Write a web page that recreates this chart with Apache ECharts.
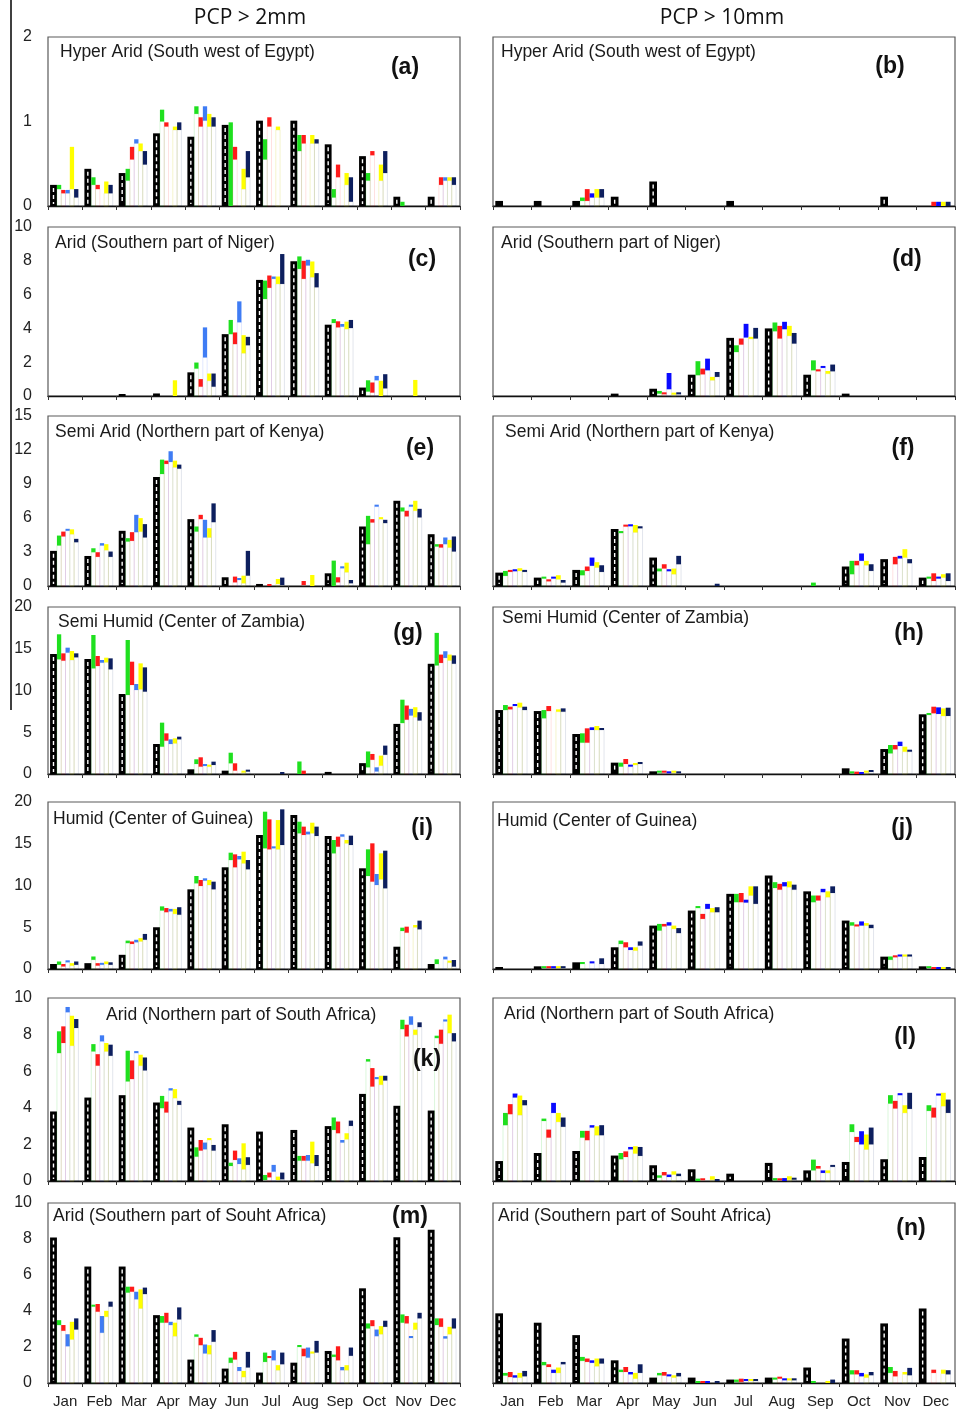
<!DOCTYPE html>
<html>
<head>
<meta charset="utf-8">
<script src="https://cdn.jsdelivr.net/npm/echarts@6/dist/echarts.min.js"></script>
<style>
  html, body { margin: 0; padding: 0; background: #fff; }
  #chart { width: 963px; height: 1412px; }
</style>
</head>
<body>
<div id="chart"></div>
<script>
(function (window, echarts) {
    'use strict';

    const months = ['Jan', 'Feb', 'Mar', 'Apr', 'May', 'Jun', 'Jul', 'Aug', 'Sep', 'Oct', 'Nov', 'Dec'];

    // hatched black bar per month
    // ranges per month: [greenLo, greenHi, redLo, redHi, blueLo, blueHi, yellowLo, yellowHi, navyLo, navyHi]

    // (a) Hyper Arid, PCP > 2mm
    const obs_a = [0.25, 0.44, 0.39, 0.86, 0.82, 0.96, 1.01, 1.01, 0.73, 0.59, 0.11, 0.11];
    const rng_a = [
        [0.20, 0.25, 0.15, 0.19, 0.15, 0.19, 0.20, 0.70, 0.10, 0.20],
        [0.25, 0.34, 0.20, 0.25, 0, 0, 0.15, 0.29, 0.15, 0.25],
        [0.30, 0.44, 0.55, 0.70, 0.74, 0.79, 0.65, 0.74, 0.49, 0.65],
        [1.00, 1.14, 0.94, 0.99, 0, 0, 0.90, 0.94, 0.90, 0.99],
        [1.09, 1.18, 0.94, 1.05, 1.01, 1.18, 0.94, 1.09, 0.94, 1.05],
        [0, 0.99, 0.55, 0.70, 0, 0, 0.20, 0.44, 0.34, 0.65],
        [0.55, 0.79, 0.94, 1.05, 0, 0, 0.90, 0.94, 0, 0],
        [0.65, 0.84, 0.74, 0.84, 0, 0, 0.74, 0.84, 0.74, 0.79],
        [0.10, 0.20, 0.34, 0.49, 0, 0, 0.25, 0.39, 0.05, 0.34],
        [0.30, 0.39, 0.60, 0.65, 0, 0, 0.30, 0.49, 0.39, 0.65],
        [0, 0.05, 0, 0, 0, 0, 0, 0, 0, 0],
        [0, 0, 0.25, 0.34, 0.30, 0.34, 0.30, 0.34, 0.25, 0.34]
    ];

    // (b) Hyper Arid, PCP > 10mm
    const obs_b = [0.06, 0.06, 0.06, 0.11, 0.29, 0, 0.06, 0, 0, 0, 0.11, 0];
    const rng_b = [
        [0, 0, 0, 0, 0, 0, 0, 0, 0, 0],
        [0, 0, 0, 0, 0, 0, 0, 0, 0, 0],
        [0.06, 0.10, 0.06, 0.20, 0.10, 0.15, 0.10, 0.20, 0.10, 0.20],
        [0, 0, 0, 0, 0, 0, 0, 0, 0, 0],
        [0, 0, 0, 0, 0, 0, 0, 0, 0, 0],
        [0, 0, 0, 0, 0, 0, 0, 0, 0, 0],
        [0, 0, 0, 0, 0, 0, 0, 0, 0, 0],
        [0, 0, 0, 0, 0, 0, 0, 0, 0, 0],
        [0, 0, 0, 0, 0, 0, 0, 0, 0, 0],
        [0, 0, 0, 0, 0, 0, 0, 0, 0, 0],
        [0, 0, 0, 0, 0, 0, 0, 0, 0, 0],
        [0, 0, 0, 0.05, 0, 0.05, 0, 0.05, 0, 0.05]
    ];

    // (c) Arid Niger, > 2mm
    const obs_c = [0, 0, 0.1, 0.15, 1.4, 3.66, 6.87, 7.98, 4.22, 0.5, 0, 0];
    const rng_c = [
        [0, 0, 0, 0, 0, 0, 0, 0, 0, 0],
        [0, 0, 0, 0, 0, 0, 0, 0, 0, 0],
        [0, 0, 0, 0, 0, 0, 0, 0, 0, 0],
        [0, 0, 0, 0, 0, 0, 0, 0.93, 0, 0],
        [1.62, 1.98, 0.55, 1.0, 2.28, 4.06, 0.9, 1.33, 0.55, 1.33],
        [3.66, 4.5, 3.07, 3.76, 4.36, 5.6, 2.53, 3.6, 3.0, 3.5],
        [5.74, 6.83, 6.4, 7.13, 6.93, 7.07, 6.63, 7.07, 6.63, 8.4],
        [7.52, 8.26, 6.93, 8.0, 7.72, 8.06, 7.03, 7.96, 6.43, 7.27],
        [4.32, 4.55, 4.06, 4.42, 4.1, 4.26, 3.96, 4.4, 4.02, 4.5],
        [0.26, 0.93, 0.2, 0.8, 0.93, 1.19, 0, 0.9, 0.45, 1.29],
        [0, 0, 0, 0, 0, 0, 0, 0.95, 0, 0],
        [0, 0, 0, 0, 0, 0, 0, 0, 0, 0]
    ];

    // (d) Arid Niger, > 10mm
    const obs_d = [0, 0, 0, 0.14, 0.43, 1.26, 3.44, 4.0, 1.26, 0.14, 0, 0];
    const rng_d = [
        [0, 0, 0, 0, 0, 0, 0, 0, 0, 0],
        [0, 0, 0, 0, 0, 0, 0, 0, 0, 0],
        [0, 0, 0, 0, 0, 0, 0, 0, 0, 0],
        [0, 0, 0, 0, 0, 0, 0, 0, 0, 0],
        [0.14, 0.3, 0.1, 0.2, 0.4, 1.36, 0.08, 0.18, 0.1, 0.2],
        [1.23, 2.06, 1.28, 1.62, 1.52, 2.21, 0.93, 1.13, 1.13, 1.42],
        [2.6, 3.0, 3.04, 3.4, 3.46, 4.27, 3.38, 3.5, 3.4, 4.03],
        [3.83, 4.35, 3.4, 4.15, 3.95, 4.39, 3.56, 4.15, 3.1, 3.73],
        [1.52, 2.11, 1.46, 1.56, 1.66, 1.72, 1.32, 1.48, 1.46, 1.86],
        [0, 0, 0, 0, 0, 0, 0, 0, 0, 0],
        [0, 0, 0, 0, 0, 0, 0, 0, 0, 0],
        [0, 0, 0, 0, 0, 0, 0, 0, 0, 0]
    ];

    // (e) Semi Arid Kenya, > 2mm
    const obs_e = [3.1, 2.65, 4.87, 9.62, 5.9, 0.77, 0.18, 0, 1.12, 5.25, 7.52, 4.57];
    const rng_e = [
        [3.57, 4.45, 4.37, 4.8, 4.87, 5.0, 4.57, 5.0, 3.86, 4.16],
        [2.98, 3.33, 2.57, 2.98, 3.57, 3.78, 3.16, 3.69, 2.57, 3.04],
        [3.92, 4.22, 3.98, 4.75, 4.75, 6.28, 4.8, 5.99, 4.28, 5.46],
        [9.88, 11.15, 10.77, 11.06, 10.94, 11.89, 10.47, 11.06, 10.35, 10.71],
        [4.8, 5.25, 5.9, 6.28, 4.28, 5.84, 4.28, 5.1, 5.63, 7.29],
        [0, 0, 0.32, 0.83, 0.53, 0.68, 0.24, 0.91, 0.91, 3.1],
        [0, 0, 0, 0.15, 0, 0, 0.18, 0.62, 0.09, 0.74],
        [0, 0, 0.09, 0.44, 0, 0, 0, 0.97, 0, 0],
        [0, 2.24, 0.32, 0.77, 1.56, 1.71, 1.21, 2.06, 0.24, 0.53],
        [3.69, 6.19, 5.6, 5.9, 7.0, 7.17, 5.9, 6.05, 5.55, 5.84],
        [6.58, 6.93, 6.14, 6.64, 7.0, 7.17, 6.64, 7.52, 6.05, 6.81],
        [3.48, 3.69, 3.39, 3.69, 3.69, 4.28, 3.39, 4.07, 3.04, 4.37]
    ];

    // (f) Semi Arid Kenya, > 10mm
    const obs_f = [1.18, 0.74, 1.42, 5.03, 2.51, 0, 0, 0, 0, 1.72, 2.37, 0.74];
    const rng_f = [
        [0.89, 1.33, 1.24, 1.42, 1.3, 1.42, 1.33, 1.57, 1.24, 1.42],
        [0.65, 0.8, 0.41, 0.59, 0.65, 0.8, 0.59, 0.95, 0.3, 0.53],
        [0.95, 1.39, 1.33, 1.72, 1.78, 2.51, 1.63, 2.1, 1.24, 1.83],
        [4.67, 4.79, 5.24, 5.41, 5.27, 5.38, 4.73, 5.38, 5.09, 5.27],
        [1.3, 1.54, 1.54, 1.92, 1.3, 1.48, 1.04, 1.54, 1.92, 2.66],
        [0, 0, 0, 0, 0, 0, 0, 0, 0, 0.2],
        [0, 0, 0, 0, 0, 0, 0, 0, 0, 0],
        [0, 0, 0, 0, 0, 0, 0, 0, 0, 0],
        [0, 0.3, 0, 0, 0, 0, 0, 0, 0, 0],
        [1.04, 2.22, 1.83, 2.22, 2.22, 2.87, 1.83, 2.22, 1.33, 1.92],
        [0, 0, 1.92, 2.57, 2.43, 2.66, 2.51, 3.25, 2.01, 2.37],
        [0.65, 0.74, 0.44, 1.12, 0.65, 0.83, 0.74, 1.04, 0.44, 1.12]
    ];

    // (g) Semi Humid Zambia, > 2mm
    const obs_g = [14.37, 13.77, 9.58, 3.59, 0.56, 0.4, 0, 0, 0.25, 1.3, 6.0, 13.2];
    const rng_g = [
        [13.73, 16.73, 13.57, 14.45, 14.53, 15.13, 13.65, 14.73, 13.97, 14.45],
        [12.65, 16.65, 12.93, 14.13, 13.33, 13.65, 13.37, 13.93, 12.53, 13.85],
        [9.46, 16.05, 10.66, 13.45, 10.06, 10.78, 10.14, 13.25, 9.86, 12.77],
        [3.27, 6.15, 3.99, 4.87, 3.59, 4.15, 3.67, 4.27, 4.15, 4.47],
        [1.2, 1.76, 0.88, 2.0, 0.96, 1.2, 0.88, 1.08, 1.08, 1.48],
        [1.28, 2.55, 0.4, 1.28, 0, 0, 0.16, 0.4, 0.28, 0.48],
        [0, 0, 0, 0, 0, 0, 0, 0, 0, 0.2],
        [0, 1.5, 0, 0.4, 0, 0, 0, 0, 0, 0],
        [0, 0, 0, 0, 0, 0, 0, 0, 0, 0],
        [0.8, 2.7, 1.7, 2.4, 0.3, 0.8, 1.0, 2.2, 2.3, 3.4],
        [6.1, 8.9, 6.5, 8.2, 7.0, 7.8, 6.8, 8.0, 6.4, 7.4],
        [13.0, 16.9, 13.3, 14.3, 13.9, 14.7, 13.6, 14.3, 13.2, 14.2]
    ];

    // (h) Semi Humid Zambia, > 10mm
    const obs_h = [7.66, 7.54, 4.79, 1.36, 0.32, 0, 0, 0, 0, 0.68, 2.99, 7.15];
    const rng_h = [
        [7.66, 8.26, 7.74, 8.06, 8.14, 8.38, 7.98, 8.54, 7.66, 8.06],
        [6.67, 7.66, 7.54, 8.14, 0, 0, 7.46, 7.74, 7.46, 7.86],
        [3.75, 4.87, 3.75, 5.47, 5.27, 5.59, 5.27, 5.75, 5.27, 5.47],
        [0.88, 1.36, 1.2, 1.8, 0.88, 1.08, 1.08, 1.28, 1.2, 1.4],
        [0.16, 0.28, 0.16, 0.28, 0.08, 0.28, 0.16, 0.28, 0.08, 0.28],
        [0, 0, 0, 0, 0, 0, 0, 0, 0, 0],
        [0, 0, 0, 0, 0, 0, 0, 0, 0, 0],
        [0, 0, 0, 0, 0, 0, 0, 0, 0, 0],
        [0, 0, 0, 0, 0, 0, 0, 0, 0, 0],
        [0.08, 0.28, 0, 0.28, 0, 0.16, 0.16, 0.4, 0.24, 0.48],
        [2.47, 3.47, 2.95, 3.47, 3.35, 3.87, 2.67, 3.27, 2.67, 2.87],
        [7.07, 7.27, 7.27, 8.06, 7.19, 7.98, 6.95, 7.86, 6.95, 7.94]
    ];

    // (i) Humid Guinea, > 2mm
    const obs_i = [0.6, 0.7, 1.7, 5.0, 9.54, 12.18, 16.05, 18.44, 15.93, 12.06, 2.67, 0.6];
    const rng_i = [
        [0.5, 0.9, 0.3, 0.6, 0.8, 1.0, 0.4, 0.7, 0.5, 0.9],
        [1.1, 1.5, 0.4, 0.7, 0.5, 0.7, 0.6, 0.9, 0.5, 0.8],
        [3.1, 3.4, 3.0, 3.3, 3.2, 3.5, 3.3, 3.7, 3.5, 4.2],
        [7.0, 7.5, 6.8, 7.3, 6.9, 7.2, 6.6, 7.2, 6.5, 7.4],
        [10.26, 11.14, 9.94, 10.66, 10.58, 10.86, 10.06, 10.66, 9.54, 10.46],
        [13.05, 13.93, 12.18, 13.73, 13.13, 13.53, 12.65, 14.05, 11.94, 13.05],
        [14.45, 18.84, 14.33, 17.92, 14.45, 14.65, 14.33, 17.84, 14.85, 19.12],
        [16.25, 17.64, 16.05, 17.05, 16.13, 16.45, 16.25, 17.52, 15.93, 17.05],
        [13.85, 15.45, 14.65, 15.85, 15.85, 16.13, 15.05, 15.45, 14.85, 15.97],
        [11.14, 14.33, 10.46, 15.05, 10.06, 11.38, 10.74, 13.85, 9.66, 14.17],
        [4.55, 4.95, 4.35, 5.07, 0, 0, 4.99, 5.27, 4.75, 5.79],
        [0.6, 1.16, 0, 0, 1.16, 1.48, 0.76, 0.96, 0.28, 1.08]
    ];

    // (j) Humid Guinea, > 10mm
    const obs_j = [0.2, 0.32, 0.8, 2.6, 5.2, 7.0, 9.0, 11.2, 9.3, 5.8, 1.48, 0.32];
    const rng_j = [
        [0, 0, 0, 0, 0, 0, 0, 0, 0, 0],
        [0.1, 0.2, 0.1, 0.2, 0.1, 0.2, 0.1, 0.2, 0.1, 0.2],
        [0.6, 0.7, 0, 0, 0.68, 0.88, 0, 0, 0.6, 1.28],
        [3.0, 3.4, 2.6, 3.2, 2.28, 2.6, 2.2, 2.6, 2.8, 3.3],
        [4.6, 5.4, 5.1, 5.4, 5.2, 5.6, 4.8, 5.2, 4.3, 4.9],
        [7.3, 7.5, 6.0, 6.6, 7.2, 7.8, 6.8, 7.3, 6.8, 7.4],
        [8.0, 9.0, 8.0, 9.1, 7.95, 8.3, 8.8, 9.9, 7.8, 9.9],
        [9.7, 10.4, 9.5, 10.2, 9.9, 10.4, 9.8, 10.5, 9.5, 10.1],
        [8.0, 8.8, 8.2, 8.8, 9.2, 9.6, 8.6, 9.3, 9.1, 9.9],
        [5.2, 5.6, 5.1, 5.3, 5.2, 5.7, 5.2, 5.5, 4.9, 5.3],
        [1.1, 1.5, 1.4, 1.6, 1.5, 1.7, 1.5, 1.7, 1.5, 1.7],
        [0.1, 0.3, 0, 0.1, 0, 0.05, 0, 0.05, 0, 0.05]
    ];

    // (k) Arid northern South Africa, > 2mm
    const obs_k = [3.8, 4.56, 4.69, 4.29, 2.92, 3.1, 2.7, 2.79, 3.0, 4.76, 4.11, 3.85];
    const rng_k = [
        [6.99, 8.18, 7.54, 8.45, 9.22, 9.51, 7.39, 9.03, 8.36, 8.85],
        [7.08, 7.48, 6.3, 6.93, 7.63, 7.96, 7.08, 7.54, 6.84, 7.45],
        [5.44, 7.12, 5.57, 6.59, 6.99, 7.08, 6.3, 6.9, 6.04, 6.75],
        [3.98, 4.65, 3.74, 4.34, 4.95, 5.07, 4.53, 5.02, 4.16, 4.38],
        [1.33, 1.84, 1.66, 2.24, 1.73, 2.1, 2.24, 2.34, 1.66, 1.97],
        [0.82, 1.0, 1.15, 1.66, 0.93, 1.24, 0.64, 2.06, 0.88, 1.3],
        [0.05, 0.33, 0.2, 0.46, 0.51, 0.88, 0.05, 0.24, 0.09, 0.46],
        [1.11, 1.37, 1.11, 1.37, 1.11, 1.42, 0.97, 2.15, 0.82, 1.42],
        [2.79, 3.47, 2.61, 3.25, 2.1, 2.24, 2.28, 2.61, 3.01, 3.3],
        [6.53, 6.66, 5.16, 6.17, 5.57, 5.68, 5.26, 5.75, 5.49, 5.75],
        [8.3, 8.81, 7.9, 8.54, 8.54, 9.0, 7.99, 8.27, 8.41, 8.67],
        [7.81, 7.94, 7.5, 8.27, 8.72, 8.81, 8.08, 9.09, 7.63, 8.08]
    ];

    // (l) Arid northern South Africa, > 10mm
    const obs_l = [1.09, 1.53, 1.64, 1.39, 0.86, 0.64, 0.4, 0.99, 0.58, 1.04, 1.19, 1.31];
    const rng_l = [
        [3.05, 3.72, 3.65, 4.2, 4.56, 4.78, 3.6, 4.67, 4.14, 4.42],
        [3.28, 3.41, 2.37, 2.81, 3.72, 4.27, 3.23, 3.72, 2.96, 3.47],
        [2.37, 2.74, 2.23, 2.74, 2.92, 3.05, 2.5, 2.99, 2.5, 3.05],
        [1.19, 1.53, 1.31, 1.62, 1.73, 1.86, 1.5, 1.9, 1.37, 1.86],
        [0.18, 0.31, 0.31, 0.49, 0.22, 0.35, 0.35, 0.53, 0.27, 0.4],
        [0, 0.13, 0.04, 0.13, 0, 0, 0.07, 0.26, 0, 0.07],
        [0, 0, 0, 0, 0, 0, 0, 0, 0, 0],
        [0.04, 0.16, 0.04, 0.13, 0, 0.16, 0.07, 0.26, 0.07, 0.18],
        [0.58, 1.17, 0.68, 0.82, 0.44, 0.58, 0.44, 0.58, 0.77, 0.86],
        [2.68, 3.1, 2.13, 2.41, 2.0, 2.72, 1.72, 2.54, 2.0, 2.92],
        [4.23, 4.69, 3.96, 4.38, 4.69, 4.78, 3.72, 4.14, 3.94, 4.82],
        [3.83, 4.14, 3.47, 4.01, 4.67, 4.72, 4.09, 4.82, 3.72, 4.45]
    ];

    // (m) Arid southern South Africa, > 2mm
    const obs_m = [8.09, 6.47, 6.47, 3.77, 1.3, 0.8, 0.58, 1.13, 1.78, 5.26, 8.1, 8.51];
    const rng_m = [
        [3.22, 3.49, 2.9, 3.22, 2.04, 2.71, 2.42, 3.4, 2.97, 3.59],
        [4.24, 4.33, 3.96, 4.39, 2.79, 3.72, 3.68, 4.01, 4.24, 4.52],
        [5.02, 5.35, 5.07, 5.35, 4.65, 5.07, 4.14, 5.2, 4.94, 5.3],
        [3.35, 3.72, 3.35, 3.9, 3.22, 3.4, 2.6, 3.35, 3.53, 4.2],
        [2.57, 2.7, 2.1, 2.51, 1.64, 2.14, 1.6, 2.1, 2.29, 2.94],
        [1.12, 1.41, 1.3, 1.73, 0.67, 0.89, 0.33, 0.67, 0.86, 1.73],
        [1.17, 1.69, 1.39, 1.5, 1.26, 1.82, 0.71, 0.99, 1.04, 1.69],
        [2.0, 2.05, 1.49, 1.91, 1.41, 1.97, 1.64, 1.73, 1.69, 2.34],
        [1.45, 1.58, 1.26, 2.04, 0.71, 0.89, 0.71, 0.99, 1.51, 1.97],
        [3.03, 3.31, 3.16, 3.49, 2.6, 2.97, 2.71, 3.16, 3.12, 3.46],
        [3.35, 3.81, 3.31, 3.72, 2.5, 2.6, 2.97, 3.35, 3.59, 3.9],
        [3.22, 3.59, 3.12, 3.59, 2.47, 2.6, 2.71, 3.12, 3.03, 3.59]
    ];

    // (n) Arid southern South Africa, > 10mm
    const obs_n = [3.87, 3.35, 2.66, 1.26, 0.3, 0.3, 0.19, 0.3, 0.86, 2.47, 3.31, 4.14];
    const rng_n = [
        [0.41, 0.56, 0.33, 0.61, 0.3, 0.43, 0.3, 0.56, 0.37, 0.67],
        [0.99, 1.17, 0.89, 1.04, 0.56, 0.74, 0.56, 0.86, 1.04, 1.17],
        [1.23, 1.45, 1.17, 1.36, 1.12, 1.26, 0.93, 1.36, 1.08, 1.36],
        [0.61, 0.74, 0.61, 0.89, 0.48, 0.61, 0.24, 0.56, 0.56, 1.04],
        [0.43, 0.56, 0.41, 0.61, 0.37, 0.43, 0.3, 0.43, 0.37, 0.56],
        [0, 0.06, 0, 0.11, 0, 0.04, 0, 0, 0, 0.06],
        [0.06, 0.19, 0.06, 0.24, 0.11, 0.19, 0.11, 0.19, 0.11, 0.19],
        [0.19, 0.28, 0.24, 0.33, 0.15, 0.24, 0.15, 0.24, 0.15, 0.24],
        [0, 0.11, 0, 0, 0, 0, 0, 0.09, 0, 0.19],
        [0.48, 0.71, 0.48, 0.71, 0.37, 0.56, 0.3, 0.48, 0.43, 0.61],
        [0.56, 0.89, 0.37, 0.67, 0, 0, 0.48, 0.61, 0.43, 0.84],
        [0, 0, 0.56, 0.74, 0, 0, 0.52, 0.74, 0.48, 0.71]
    ];

    const colTitles = ['PCP > 2mm', 'PCP > 10mm'];

    // layout of the 7 x 2 panels
    const rowTop = [37, 227, 416, 607, 802, 998, 1203];
    const rowBottom = [206, 396, 586, 774, 969, 1181, 1383];
    const colLeft = [48, 493];
    const colRight = [460, 955];

    const panels = [
        {tag: '(a)', title: 'Hyper Arid (South west of Egypt)', obs: obs_a, rng: rng_a, row: 0, col: 0, max: 2, step: 1, tx: 60, ty: 52, lx: 405, ly: 68},
        {tag: '(b)', title: 'Hyper Arid (South west of Egypt)', obs: obs_b, rng: rng_b, row: 0, col: 1, max: 2, step: 1, tx: 501, ty: 52, lx: 890, ly: 67},
        {tag: '(c)', title: 'Arid (Southern part of Niger)', obs: obs_c, rng: rng_c, row: 1, col: 0, max: 10, step: 2, tx: 55, ty: 243, lx: 422, ly: 260},
        {tag: '(d)', title: 'Arid (Southern part of Niger)', obs: obs_d, rng: rng_d, row: 1, col: 1, max: 10, step: 2, tx: 501, ty: 243, lx: 907, ly: 260},
        {tag: '(e)', title: 'Semi Arid (Northern part of Kenya)', obs: obs_e, rng: rng_e, row: 2, col: 0, max: 15, step: 3, tx: 55, ty: 432, lx: 420, ly: 449},
        {tag: '(f)', title: 'Semi Arid (Northern part of Kenya)', obs: obs_f, rng: rng_f, row: 2, col: 1, max: 15, step: 3, tx: 505, ty: 432, lx: 903, ly: 449},
        {tag: '(g)', title: 'Semi Humid (Center of Zambia)', obs: obs_g, rng: rng_g, row: 3, col: 0, max: 20, step: 5, tx: 58, ty: 622, lx: 408, ly: 634},
        {tag: '(h)', title: 'Semi Humid (Center of Zambia)', obs: obs_h, rng: rng_h, row: 3, col: 1, max: 20, step: 5, tx: 502, ty: 618, lx: 909, ly: 634},
        {tag: '(i)', title: 'Humid (Center of Guinea)', obs: obs_i, rng: rng_i, row: 4, col: 0, max: 20, step: 5, tx: 53, ty: 819, lx: 422, ly: 829},
        {tag: '(j)', title: 'Humid (Center of Guinea)', obs: obs_j, rng: rng_j, row: 4, col: 1, max: 20, step: 5, tx: 497, ty: 821, lx: 902, ly: 829},
        {tag: '(k)', title: 'Arid (Northern part of South Africa)', obs: obs_k, rng: rng_k, row: 5, col: 0, max: 10, step: 2, tx: 106, ty: 1015, lx: 427, ly: 1060},
        {tag: '(l)', title: 'Arid (Northern part of South Africa)', obs: obs_l, rng: rng_l, row: 5, col: 1, max: 10, step: 2, tx: 504, ty: 1014, lx: 905, ly: 1038},
        {tag: '(m)', title: 'Arid (Southern part of Souht Africa)', obs: obs_m, rng: rng_m, row: 6, col: 0, max: 10, step: 2, tx: 53, ty: 1216, lx: 410, ly: 1217},
        {tag: '(n)', title: 'Arid (Southern part of Souht Africa)', obs: obs_n, rng: rng_n, row: 6, col: 1, max: 10, step: 2, tx: 498, ty: 1216, lx: 911, ly: 1229}
    ];

    const FONT = '"Liberation Sans", Arial, sans-serif';
    const rangeColors = [
        ['#1fe01f', '#1fe01f'],   // green
        ['#ff1a1a', '#ff1a1a'],   // red
        ['#3f7cf4', '#0a0aff'],   // blue (left / right column)
        ['#ffff00', '#ffff00'],   // yellow
        ['#0d1f5e', '#0d1f5e']    // navy
    ];
    const faint = ['rgba(0,200,0,0.18)', 'rgba(255,0,0,0.15)', 'rgba(40,90,255,0.18)', 'rgba(200,200,0,0.25)', 'rgba(10,30,90,0.15)'];

    const empty = {type: 'group', children: []};

    function obsRender(params, api) {
        const i = api.value(0), v = api.value(1);
        if (!(v > 0)) return empty;
        const band = api.size([1, 0])[0];
        const x = api.coord([i, 0])[0] - band / 2 + band * 0.06;
        const w = band * 0.2;
        const y0 = api.coord([i, 0])[1];
        const yT = Math.min(api.coord([i, v])[1], y0 - 2);
        const children = [{
            type: 'rect',
            shape: {x: x, y: yT, width: w, height: y0 - yT},
            style: {fill: '#000'}
        }];
        if (y0 - yT > 7) {
            children.push({
                type: 'line',
                shape: {x1: x + w / 2, y1: yT + 3, x2: x + w / 2, y2: y0 - 2},
                style: {stroke: '#fff', lineWidth: 1.4, lineDash: [4, 3]}
            });
        }
        return {type: 'group', children: children};
    }

    function rangeRender(slot, color, baseColor) {
        return function (params, api) {
            const i = api.value(0), lo = api.value(1), hi = api.value(2);
            if (!(hi > lo)) return empty;
            const band = api.size([1, 0])[0];
            const x = api.coord([i, 0])[0] - band / 2 + band * (0.26 + slot * 0.125);
            const w = band * 0.125;
            const y0 = api.coord([i, 0])[1];
            const yLo = api.coord([i, lo])[1];
            const yHi = Math.min(api.coord([i, hi])[1], yLo - 2);
            const children = [];
            if (y0 - yLo > 1) {
                // invisible base bar, only its light outline shows
                children.push({
                    type: 'rect',
                    shape: {x: x, y: yLo, width: w, height: y0 - yLo},
                    style: {fill: 'none', stroke: baseColor, lineWidth: 0.8}
                });
            }
            children.push({
                type: 'rect',
                shape: {x: x, y: yHi, width: w, height: yLo - yHi},
                style: {fill: color}
            });
            return {type: 'group', children: children};
        };
    }

    const grid = [], xAxis = [], yAxis = [], series = [], graphic = [];

    panels.forEach((p, k) => {
        grid.push({
            left: colLeft[p.col],
            width: colRight[p.col] - colLeft[p.col],
            top: rowTop[p.row],
            height: rowBottom[p.row] - rowTop[p.row],
            show: true,
            borderColor: '#5a5a5a',
            borderWidth: 1.2,
            backgroundColor: '#fff'
        });
        xAxis.push({
            type: 'category',
            gridIndex: k,
            data: months,
            boundaryGap: true,
            axisLine: {lineStyle: {color: '#111', width: 1.3}},
            axisTick: {show: true, length: 4, lineStyle: {color: '#333'}},
            axisLabel: {
                show: p.row === 6,
                interval: 0,
                fontFamily: FONT,
                fontSize: 15,
                color: '#222',
                margin: 11
            }
        });
        yAxis.push({
            type: 'value',
            gridIndex: k,
            min: 0,
            max: p.max,
            interval: p.step,
            axisLine: {show: false},
            axisTick: {show: false},
            splitLine: {show: false},
            axisLabel: {
                show: p.col === 0,
                fontFamily: FONT,
                fontSize: 16,
                color: '#222',
                margin: 16
            }
        });

        series.push({
            type: 'custom',
            xAxisIndex: k,
            yAxisIndex: k,
            renderItem: obsRender,
            data: p.obs.map((v, i) => [i, v]),
            silent: true
        });
        rangeColors.forEach((c, s) => {
            series.push({
                type: 'custom',
                xAxisIndex: k,
                yAxisIndex: k,
                renderItem: rangeRender(s, c[p.col], faint[s]),
                data: p.rng.map((r, i) => [i, r[2 * s], r[2 * s + 1]]),
                silent: true
            });
        });

        graphic.push({
            type: 'text',
            x: p.tx,
            y: p.ty,
            z: 50,
            style: {text: p.title, font: '17.5px ' + FONT, fill: '#1a1a1a', align: 'left', verticalAlign: 'middle'}
        });
        graphic.push({
            type: 'text',
            x: p.lx,
            y: p.ly,
            z: 50,
            style: {text: p.tag, font: 'bold 23px ' + FONT, fill: '#111', align: 'center', verticalAlign: 'middle'}
        });
    });

    // column headings
    graphic.push({
        type: 'text', x: 250, y: 18, z: 50,
        style: {text: colTitles[0], font: '21px "Open Sans", ' + FONT, fill: '#111', align: 'center', verticalAlign: 'middle'}
    });
    graphic.push({
        type: 'text', x: 722, y: 18, z: 50,
        style: {text: colTitles[1], font: '21px "Open Sans", ' + FONT, fill: '#111', align: 'center', verticalAlign: 'middle'}
    });
    // stray vertical rule at the left edge of the scan
    graphic.push({
        type: 'line', z: 50,
        shape: {x1: 11, y1: 0, x2: 11, y2: 710},
        style: {stroke: '#000', lineWidth: 1.5}
    });

    const chart = echarts.init(document.getElementById('chart'), null, {renderer: 'canvas'});
    chart.setOption({
        animation: false,
        backgroundColor: '#fff',
        grid: grid,
        xAxis: xAxis,
        yAxis: yAxis,
        series: series,
        graphic: graphic
    });

})(window, echarts);
</script>
</body>
</html>
